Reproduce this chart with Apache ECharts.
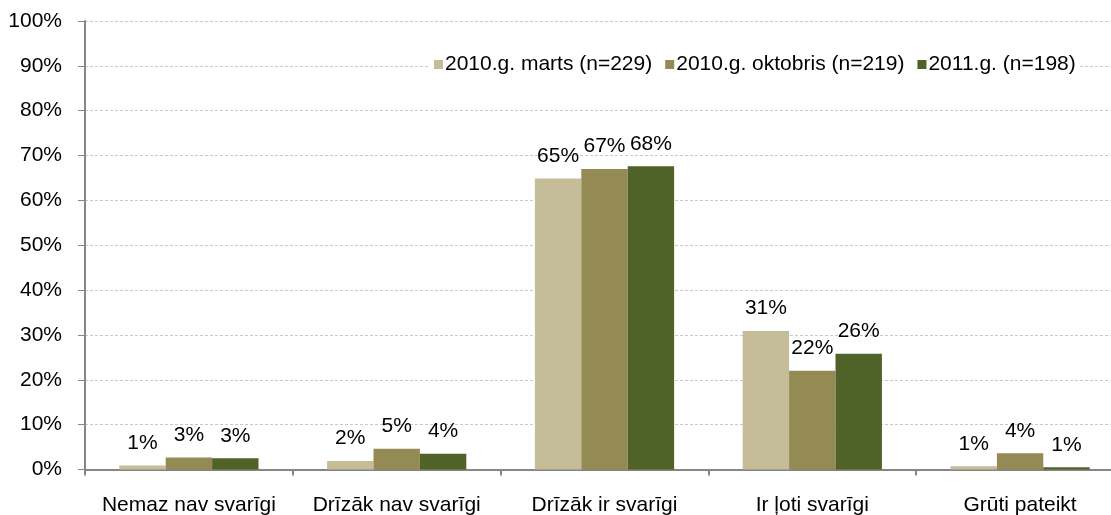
<!DOCTYPE html>
<html>
<head>
<meta charset="utf-8">
<script src="https://cdn.jsdelivr.net/npm/echarts@6/dist/echarts.min.js"></script>
<style>
html,body{margin:0;padding:0;background:#fff;}
#chart{width:1111px;height:515px;}
</style>
</head>
<body>
<div id="chart"></div>
<script>
var categories = ["Nemaz nav svarīgi", "Drīzāk nav svarīgi", "Drīzāk ir svarīgi", "Ir ļoti svarīgi", "Grūti pateikt"];
var seriesNames = ["2010.g. marts (n=229)", "2010.g. oktobris (n=219)", "2011.g. (n=198)"];
var marts2010 = [0.9, 1.9, 64.9, 30.9, 0.7];
var oktobris2010 = [2.7, 4.6, 67.0, 22.0, 3.6];
var gads2011 = [2.5, 3.5, 67.6, 25.8, 0.5];
var yTicks = [0, 10, 20, 30, 40, 50, 60, 70, 80, 90, 100];
var colors = ["#c4bd97", "#948a54", "#4f6228"];

var chart = echarts.init(document.getElementById("chart"));
var font = "Liberation Sans, Arial, sans-serif";

function bar(name, data, color) {
    return {
        name: name,
        type: "bar",
        data: data,
        barGap: "0%",
        barCategoryGap: "33%",
        itemStyle: {color: color},
        label: {
            show: true,
            position: "top",
            distance: 12,
            color: "#000",
            fontFamily: font,
            fontSize: 21,
            formatter: function (p) { return Math.round(p.value) + "%"; }
        }
    };
}

var option = {
    animation: false,
    textStyle: {fontFamily: font},
    grid: {left: 85, top: 21, width: 1039, height: 448.5, outerBoundsMode: "none", containLabel: false},
    legend: {
        data: seriesNames,
        left: 430,
        top: 51,
        padding: [3, 4],
        backgroundColor: "#fff",
        itemWidth: 9,
        itemHeight: 9,
        itemGap: 13,
        icon: "rect",
        textStyle: {color: "#000", fontSize: 21, fontFamily: font, padding: [0, 0, 0, -3]}
    },
    xAxis: {
        type: "category",
        data: categories,
        axisLine: {lineStyle: {color: "#868686", width: 2}},
        axisTick: {show: true, length: 6, lineStyle: {color: "#868686", width: 2}},
        axisLabel: {color: "#000", fontSize: 21, fontFamily: font, margin: 25, interval: 0}
    },
    yAxis: {
        type: "value",
        min: yTicks[0],
        max: yTicks[yTicks.length - 1],
        interval: 10,
        axisLine: {show: true, lineStyle: {color: "#868686", width: 2}},
        axisTick: {show: true, length: 7, lineStyle: {color: "#868686", width: 1}},
        axisLabel: {color: "#000", fontSize: 21, fontFamily: font, margin: 23,
            formatter: function (v) { return v + "%"; }},
        splitLine: {show: true, lineStyle: {color: "#c8c8c8", type: [3, 2], width: 1}}
    },
    series: [
        bar(seriesNames[0], marts2010, colors[0]),
        bar(seriesNames[1], oktobris2010, colors[1]),
        bar(seriesNames[2], gads2011, colors[2])
    ]
};
chart.setOption(option);
</script>
</body>
</html>
